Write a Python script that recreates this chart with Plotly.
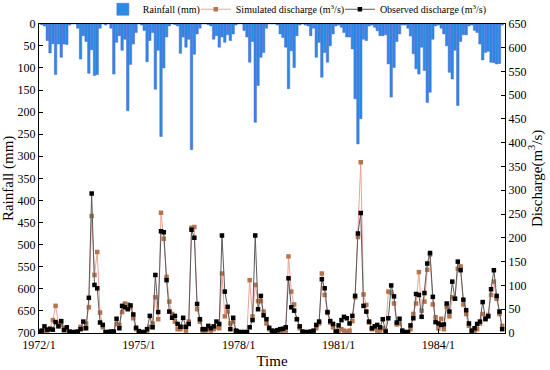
import pandas as pd
import plotly.graph_objects as go

months = pd.date_range("1972-01-01", periods=168, freq="MS")

rain_1972 = [0, 2, 5, 38, 66, 45, 115, 46, 76, 46, 47, 3]
rain_1973 = [0, 0, 10, 80, 27, 40, 112, 59, 117, 115, 10, 0]
rain_1974 = [3, 0, 10, 114, 42, 27, 60, 35, 197, 92, 46, 20]
rain_1975 = [0, 3, 15, 86, 38, 20, 148, 60, 255, 100, 30, 5]
rain_1976 = [0, 2, 5, 67, 30, 53, 35, 285, 69, 23, 10, 0]
rain_1977 = [0, 2, 5, 35, 27, 53, 30, 42, 25, 38, 23, 3]
rain_1978 = [0, 0, 15, 30, 87, 40, 223, 140, 76, 65, 10, 0]
rain_1979 = [0, 0, 3, 23, 31, 53, 147, 61, 99, 27, 3, 0]
rain_1980 = [3, 5, 27, 10, 76, 42, 121, 65, 87, 50, 23, 5]
rain_1981 = [3, 8, 20, 30, 30, 57, 170, 272, 215, 35, 38, 5]
rain_1982 = [3, 8, 16, 27, 27, 25, 91, 166, 99, 40, 23, 3]
rain_1983 = [3, 10, 28, 68, 102, 114, 53, 106, 178, 155, 35, 5]
rain_1984 = [3, 10, 23, 50, 110, 125, 60, 185, 40, 25, 25, 5]
rain_1985 = [3, 15, 20, 46, 82, 65, 62, 87, 88, 91, 90, 3]

obs_1972 = [3, 5, 14, 7, 8, 7, 23, 14, 25, 6, 12, 3]
obs_1973 = [2, 2, 3, 8, 24, 10, 74, 293, 101, 94, 22, 17]
obs_1974 = [2, 2, 3, 3, 30, 10, 57, 54, 50, 58, 39, 11]
obs_1975 = [4, 2, 2, 8, 36, 12, 122, 44, 214, 212, 111, 45]
obs_1976 = [32, 36, 19, 13, 32, 13, 19, 217, 200, 61, 29, 8]
obs_1977 = [8, 15, 10, 14, 24, 19, 205, 87, 55, 8, 32, 5]
obs_1978 = [2, 2, 2, 2, 12, 27, 205, 50, 78, 37, 29, 11]
obs_1979 = [5, 4, 6, 8, 9, 12, 115, 54, 47, 29, 14, 3]
obs_1980 = [2, 2, 3, 5, 17, 24, 113, 94, 44, 25, 19, 3]
obs_1981 = [16, 27, 34, 31, 20, 36, 78, 209, 252, 57, 45, 24]
obs_1982 = [10, 14, 17, 12, 29, 3, 31, 100, 77, 22, 30, 5]
obs_1983 = [2, 2, 16, 31, 82, 80, 34, 84, 146, 168, 76, 23]
obs_1984 = [20, 17, 18, 62, 45, 108, 72, 150, 132, 70, 48, 20]
obs_1985 = [5, 10, 19, 24, 65, 30, 35, 92, 132, 78, 45, 8]

sim_1972 = [2, 2, 5, 5, 10, 27, 57, 20, 17, 10, 6, 2]
sim_1973 = [1, 1, 2, 13, 10, 20, 54, 246, 122, 170, 43, 12]
sim_1974 = [1, 1, 2, 2, 19, 17, 44, 62, 60, 54, 31, 8]
sim_1975 = [2, 1, 1, 5, 13, 20, 75, 29, 253, 198, 118, 66]
sim_1976 = [40, 24, 8, 8, 13, 5, 24, 221, 223, 50, 24, 5]
sim_1977 = [5, 8, 5, 8, 12, 10, 125, 35, 45, 20, 24, 3]
sim_1978 = [1, 1, 1, 1, 111, 35, 101, 67, 67, 45, 20, 8]
sim_1979 = [2, 2, 2, 3, 3, 5, 161, 87, 60, 29, 10, 2]
sim_1980 = [1, 1, 1, 3, 10, 20, 125, 80, 42, 22, 12, 2]
sim_1981 = [5, 8, 5, 3, 5, 25, 75, 202, 359, 81, 59, 22]
sim_1982 = [8, 10, 5, 5, 10, 5, 87, 85, 62, 18, 20, 3]
sim_1983 = [1, 1, 8, 40, 62, 128, 47, 66, 133, 165, 60, 33]
sim_1984 = [10, 30, 8, 55, 35, 75, 72, 135, 140, 60, 40, 15]
sim_1985 = [3, 5, 8, 20, 40, 28, 38, 80, 108, 72, 40, 15]

rainfall = sum([rain_1972, rain_1973, rain_1974, rain_1975, rain_1976, rain_1977, rain_1978,
                rain_1979, rain_1980, rain_1981, rain_1982, rain_1983, rain_1984, rain_1985], [])
observed = sum([obs_1972, obs_1973, obs_1974, obs_1975, obs_1976, obs_1977, obs_1978,
                obs_1979, obs_1980, obs_1981, obs_1982, obs_1983, obs_1984, obs_1985], [])
simulated = sum([sim_1972, sim_1973, sim_1974, sim_1975, sim_1976, sim_1977, sim_1978,
                 sim_1979, sim_1980, sim_1981, sim_1982, sim_1983, sim_1984, sim_1985], [])

tick_dates = ["1972-01-01", "1975-01-01", "1978-01-01", "1981-01-01", "1984-01-01"]
tick_labels = ["1972/1", "1975/1", "1978/1", "1981/1", "1984/1"]

FONT = "Liberation Serif"

fig = go.Figure()
fig.add_trace(go.Bar(
    x=months, y=rainfall, name="Rainfall (mm)", yaxis="y", legend="legend",
    marker=dict(color="#2B8BE3", line=dict(color="#4A63D6", width=0.5)),
))
fig.add_trace(go.Scatter(
    x=months, y=simulated, name="Simulated discharge (m<sup>3</sup>/s)", yaxis="y2",
    legend="legend2", mode="lines+markers",
    line=dict(color="#EFA29A", width=1),
    marker=dict(symbol="square", size=4.5, color="#B5764F"),
))
fig.add_trace(go.Scatter(
    x=months, y=observed, name="Observed discharge (m<sup>3</sup>/s)", yaxis="y2",
    legend="legend3", mode="lines+markers",
    line=dict(color="#5A5A5A", width=1),
    marker=dict(symbol="square", size=4.5, color="#000000"),
))

axis_common = dict(showline=True, linecolor="black", linewidth=1.2, ticks="inside",
                   ticklen=4, tickcolor="black", showgrid=False, zeroline=False,
                   automargin=False,
                   tickfont=dict(family=FONT, size=12, color="black"))

legend_common = dict(orientation="h", xref="container", yref="container",
                     y=0.975, yanchor="middle", xanchor="left",
                     font=dict(family=FONT, size=10), bgcolor="rgba(0,0,0,0)",
                     itemwidth=30, borderwidth=0)

fig.update_layout(
    width=550, height=370,
    margin=dict(l=39, r=45, t=23, b=37),
    paper_bgcolor="white", plot_bgcolor="white",
    font=dict(family=FONT, size=12, color="black"),
    bargap=0.04,
    showlegend=True,
    legend=dict(x=0.187, **legend_common),
    legend2=dict(x=0.356, **legend_common),
    legend3=dict(x=0.618, **legend_common),
    xaxis=dict(range=["1972-01-01", "1986-01-01"], tickvals=tick_dates, ticktext=tick_labels,
               title=dict(text="Time", font=dict(family=FONT, size=15), standoff=4),
               mirror=True, **axis_common),
    yaxis=dict(range=[700, 0], dtick=50,
               title=dict(text="Rainfall (mm)", font=dict(family=FONT, size=15), standoff=4),
               **axis_common),
    yaxis2=dict(range=[0, 650], dtick=50, overlaying="y", side="right",
                title=dict(text="Discharge(m<sup>3</sup>/s)", font=dict(family=FONT, size=15), standoff=2),
                **axis_common),
)

fig.write_html("out.html", config={"displayModeBar": False},
               post_script="document.body.style.margin='0px';")
